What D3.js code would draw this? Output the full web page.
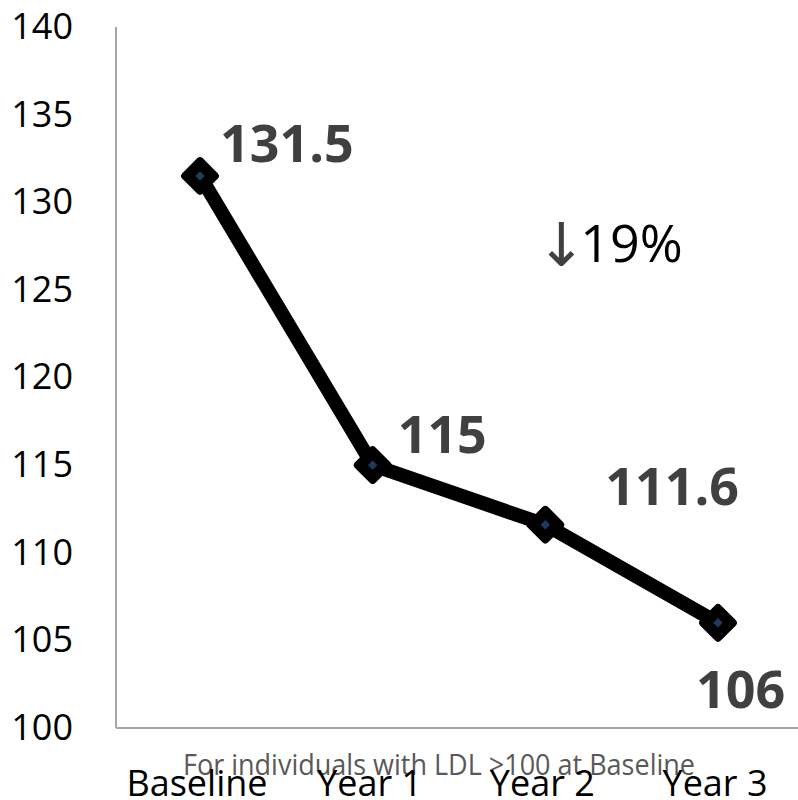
<!DOCTYPE html>
<html><head><meta charset="utf-8">
<script src="https://cdn.jsdelivr.net/npm/d3@7"></script>
<style>body{margin:0;background:#fff}svg{display:block}</style>
</head><body>
<script>
const categories = ["Baseline", "Year 1", "Year 2", "Year 3"];
const values = [131.5, 115, 111.6, 106];
const valueLabels = ["131.5", "115", "111.6", "106"];
const yTicks = [100, 105, 110, 115, 120, 125, 130, 135, 140];
const subtitle = "For individuals with LDL >100 at Baseline";
const annotation = "19%";

const W = 798, H = 800;
const svg = d3.select("body").append("svg").attr("width", W).attr("height", H);
const x = d3.scalePoint().domain(categories).range([200, 718]);
const y = d3.scaleLinear().domain([100, 140]).range([728, 27]);
const font = "'Open Sans', 'Noto Sans', sans-serif";

// axes lines
svg.append("line").attr("x1", 116).attr("x2", 116).attr("y1", 27).attr("y2", 728)
  .attr("stroke", "#a6a6a6").attr("stroke-width", 2);
svg.append("line").attr("x1", 116).attr("x2", W).attr("y1", 728).attr("y2", 728)
  .attr("stroke", "#a6a6a6").attr("stroke-width", 2);

// y ticks
svg.append("g").selectAll("text").data(yTicks).join("text")
  .attr("x", 73).attr("y", d => y(d)).attr("dy", "0.33em")
  .attr("text-anchor", "end").attr("font-family", font).attr("font-size", 36)
  .attr("fill", "#000").text(d => d);

// subtitle
svg.append("text").attr("x", 439).attr("y", 775).attr("text-anchor", "middle")
  .attr("font-family", font).attr("font-size", 30).attr("fill", "#595959")
  .attr("textLength", 512).attr("lengthAdjust", "spacingAndGlyphs").text(subtitle);

// x labels
svg.append("g").selectAll("text").data(categories).join("text")
  .attr("x", d => x(d) - 3).attr("y", 796)
  .attr("text-anchor", "middle").attr("font-family", font).attr("font-size", 36)
  .attr("fill", "#000").text(d => d);

// line
const pts = categories.map((c, i) => [x(c), y(values[i])]);
svg.append("path").attr("d", d3.line()(pts)).attr("fill", "none")
  .attr("stroke", "#000").attr("stroke-width", 14).attr("stroke-linejoin", "round");

// markers
const sym = d3.symbol().type(d3.symbolSquare);
svg.append("g").selectAll("path").data(pts).join("path")
  .attr("transform", d => `translate(${d[0]},${d[1]}) rotate(45)`)
  .attr("d", sym.size(440)()).attr("fill", "#000").attr("stroke", "#000")
  .attr("stroke-width", 8).attr("stroke-linejoin", "round");
svg.append("g").selectAll("path").data(pts).join("path")
  .attr("transform", d => `translate(${d[0]},${d[1]}) rotate(45)`)
  .attr("d", sym.size(45)()).attr("fill", "#1f3b5c");

// data labels
const offs = [[20, -14], [25, -12], [60, -20], [-22, 85]];
svg.append("g").selectAll("text").data(pts).join("text")
  .attr("x", (d, i) => d[0] + offs[i][0]).attr("y", (d, i) => d[1] + offs[i][1])
  .attr("font-family", font).attr("font-size", 52).attr("font-weight", "bold")
  .attr("fill", "#404040").text((d, i) => valueLabels[i]);

// annotation
const ann = svg.append("text").attr("x", 536).attr("y", 262)
  .attr("font-family", font).attr("font-size", 52);
ann.append("tspan").attr("fill", "#404040").attr("font-family", "'DejaVu Sans'")
  .attr("font-size", 60).attr("dy", 4).text("\u2193");
ann.append("tspan").attr("fill", "#000").attr("dx", -6).attr("dy", -4).text(annotation);
</script>
</body></html>
